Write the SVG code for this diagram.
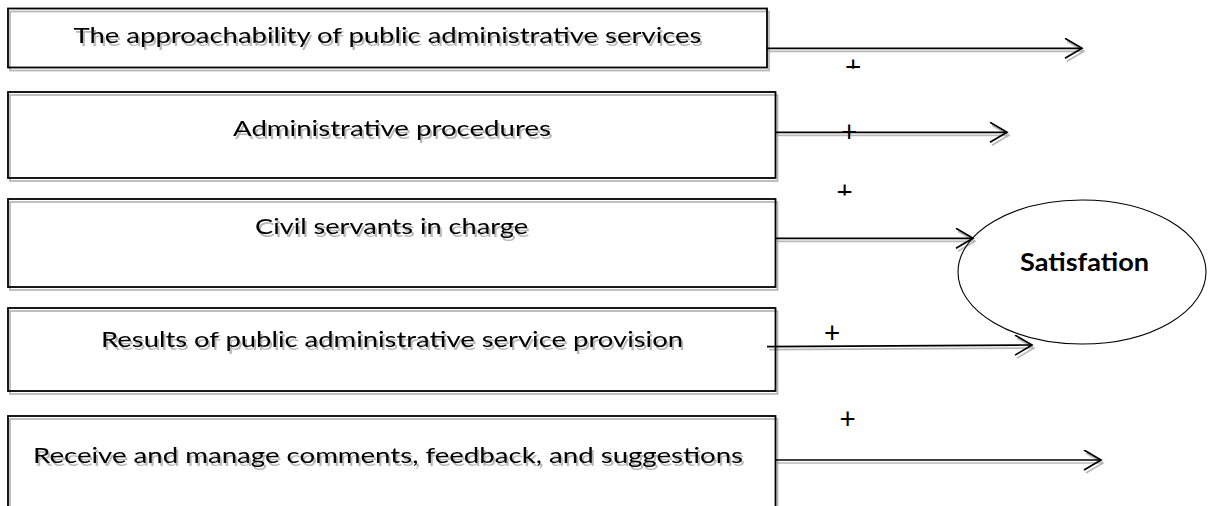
<svg xmlns="http://www.w3.org/2000/svg" width="1208" height="506" viewBox="0 0 1208 506">
  <defs>
    <style>
      .box { fill: none; stroke: #000; stroke-width: 1.8; }
      .lbl { font-family: "Lato", "Liberation Sans", sans-serif; font-size: 22px; fill: #000; }
      .plus { font-family: "Lato", "Liberation Sans", sans-serif; font-size: 28px; fill: #000; text-anchor: middle; }
      .sat { font-family: "Lato", "Liberation Sans", sans-serif; font-size: 25px; font-weight: bold; fill: #000; }
      .conn { fill: none; stroke: #000; stroke-width: 1.7; marker-end: url(#open); }
    </style>
    <!-- soft grey drop shadow under boxes, labels and arrows -->
    <filter id="shadow" filterUnits="userSpaceOnUse" x="0" y="0" width="1208" height="520">
      <feGaussianBlur in="SourceAlpha" stdDeviation="0.7"/>
      <feOffset dx="1.5" dy="2.5" result="off"/>
      <feComponentTransfer>
        <feFuncA type="linear" slope="0.28"/>
      </feComponentTransfer>
      <feMerge>
        <feMergeNode/>
        <feMergeNode in="SourceGraphic"/>
      </feMerge>
    </filter>
    <!-- open chevron arrowhead -->
    <marker id="open" markerUnits="userSpaceOnUse" markerWidth="22" markerHeight="24" refX="18" refY="10" orient="auto">
      <path d="M1,0 L18,10 L1,20" fill="none" stroke="#000" stroke-width="1.7"/>
    </marker>
    <clipPath id="clipPlus1"><rect x="830" y="50" width="40" height="18.8"/></clipPath>
    <clipPath id="clipPlus3"><rect x="825" y="175" width="40" height="20.5"/></clipPath>
  </defs>

  <rect width="1208" height="506" fill="#fff"/>

  <!-- input factor boxes -->
  <g id="approachability" filter="url(#shadow)">
    <rect class="box" x="8" y="8.5" width="759" height="59"/>
    <text class="lbl" x="73.5" y="43" textLength="628" lengthAdjust="spacingAndGlyphs">The approachability of public administrative services</text>
  </g>
  <g id="procedures" filter="url(#shadow)">
    <rect class="box" x="8" y="92" width="767.5" height="86"/>
    <text class="lbl" x="233" y="136" textLength="318" lengthAdjust="spacingAndGlyphs">Administrative procedures</text>
  </g>
  <g id="civil-servants" filter="url(#shadow)">
    <rect class="box" x="8" y="199" width="767.5" height="88"/>
    <text class="lbl" x="255" y="234" textLength="273" lengthAdjust="spacingAndGlyphs">Civil servants in charge</text>
  </g>
  <g id="results" filter="url(#shadow)">
    <rect class="box" x="8" y="308" width="767.5" height="83"/>
    <text class="lbl" x="101" y="347" textLength="582" lengthAdjust="spacingAndGlyphs">Results of public administrative service provision</text>
  </g>
  <g id="feedback" filter="url(#shadow)">
    <rect class="box" x="8" y="416" width="767.5" height="110"/>
    <text class="lbl" x="33" y="463" textLength="710" lengthAdjust="spacingAndGlyphs">Receive and manage comments, feedback, and suggestions</text>
  </g>

  <!-- outcome -->
  <g id="satisfaction">
    <ellipse cx="1082" cy="272" rx="124" ry="72" fill="none" stroke="#000" stroke-width="1.1"/>
    <text class="sat" x="1020" y="271" textLength="129" lengthAdjust="spacingAndGlyphs">Satisfation</text>
  </g>

  <!-- arrows from each factor -->
  <g id="connectors" filter="url(#shadow)">
    <path class="conn" d="M767,48.3 L1082,48.3"/>
    <path class="conn" d="M775.5,132.3 L1007,132.3"/>
    <path class="conn" d="M775.5,238.3 L973,238.3"/>
    <path class="conn" d="M767,346.7 L1032,345"/>
    <path class="conn" d="M775.5,460 L1101,460"/>
  </g>

  <!-- positive-effect signs -->
  <g id="signs">
    <text class="plus" x="853" y="76.5" clip-path="url(#clipPlus1)">+</text>
    <text class="plus" x="849" y="142">+</text>
    <text class="plus" x="844.5" y="201.8" clip-path="url(#clipPlus3)">+</text>
    <text class="plus" x="832" y="342.5">+</text>
    <text class="plus" x="847.5" y="428.8">+</text>
  </g>
</svg>
